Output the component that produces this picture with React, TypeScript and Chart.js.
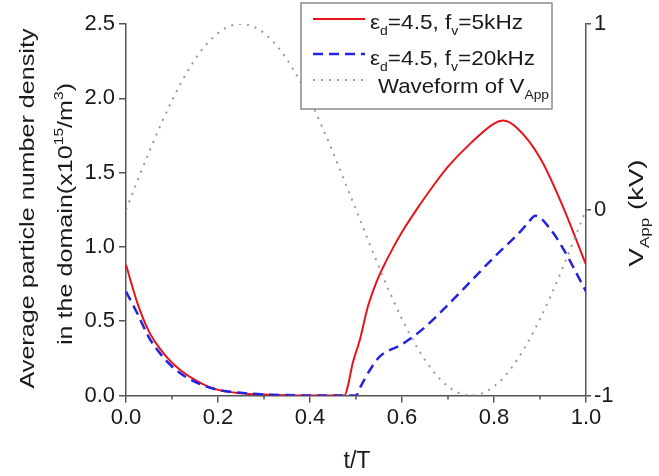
import React, { useEffect, useRef } from "react";
import { Chart, registerables } from "chart.js";

Chart.register(...registerables);

// ---------- data ----------
const tRed = [0, 0.025, 0.05, 0.075, 0.1, 0.125, 0.15, 0.175, 0.2, 0.25, 0.3, 0.35, 0.4, 0.45, 0.475, 0.482, 0.493, 0.508, 0.526, 0.544, 0.56, 0.58, 0.6, 0.638, 0.67, 0.7, 0.75, 0.8, 0.82, 0.85, 0.9, 0.95, 1.0];
const densityRed = [0.88, 0.62, 0.43, 0.31, 0.22, 0.155, 0.105, 0.065, 0.038, 0.015, 0.006, 0.002, 0, 0, 0, 0.06, 0.22, 0.37, 0.6, 0.76, 0.87, 0.99, 1.1, 1.28, 1.42, 1.54, 1.7, 1.83, 1.85, 1.8, 1.6, 1.27, 0.88];

const tBlue = [0, 0.025, 0.05, 0.075, 0.1, 0.125, 0.15, 0.175, 0.2, 0.25, 0.3, 0.35, 0.4, 0.45, 0.5, 0.51, 0.53, 0.551, 0.6, 0.65, 0.7, 0.75, 0.8, 0.85, 0.871, 0.89, 0.92, 0.95, 1.0];
const densityBlue = [0.7, 0.55, 0.39, 0.28, 0.195, 0.135, 0.092, 0.06, 0.038, 0.018, 0.007, 0.003, 0, 0, 0, 0.06, 0.17, 0.26, 0.345, 0.46, 0.61, 0.77, 0.93, 1.08, 1.15, 1.21, 1.13, 0.99, 0.7];

const tWave = [0, 0.025, 0.05, 0.075, 0.1, 0.125, 0.15, 0.175, 0.2, 0.225, 0.25, 0.275, 0.3, 0.325, 0.35, 0.375, 0.4, 0.425, 0.45, 0.475, 0.5, 0.525, 0.55, 0.575, 0.6, 0.625, 0.65, 0.675, 0.7, 0.725, 0.75, 0.775, 0.8, 0.825, 0.85, 0.875, 0.9, 0.925, 0.95, 0.975, 1.0];
const vApp = [0, 0.156, 0.309, 0.454, 0.588, 0.707, 0.809, 0.891, 0.951, 0.988, 1, 0.988, 0.951, 0.891, 0.809, 0.707, 0.588, 0.454, 0.309, 0.156, 0, -0.156, -0.309, -0.454, -0.588, -0.707, -0.809, -0.891, -0.951, -0.988, -1, -0.988, -0.951, -0.891, -0.809, -0.707, -0.588, -0.454, -0.309, -0.156, 0];

const xMinorTicks = [0.1, 0.3, 0.5, 0.7, 0.9];

// ---------- styles ----------
const FONT = "'Liberation Sans', Arial, sans-serif";
const TEXT = "#1a1a1a";
const AXIS = "#555555";
const RED = "#e8141c";
const BLUE = "#2424e0";
const GREY = "#9a9a9a";

type Seg = { t: string; sub?: boolean; sup?: boolean };

function richWidth(ctx: CanvasRenderingContext2D, segs: Seg[], fs: number) {
  let w = 0;
  for (const s of segs) {
    const f = s.sub || s.sup ? fs * 0.62 : fs;
    ctx.font = `${f}px ${FONT}`;
    w += ctx.measureText(s.t).width;
  }
  return w;
}

function drawRich(
  ctx: CanvasRenderingContext2D,
  segs: Seg[],
  fs: number,
  x: number,
  y: number,
  rot: number,
  targetW: number,
  center: boolean
) {
  const w = richWidth(ctx, segs, fs);
  const sx = targetW / w;
  ctx.save();
  ctx.translate(x, y);
  ctx.rotate(rot);
  ctx.scale(sx, 1);
  ctx.fillStyle = TEXT;
  ctx.textBaseline = "alphabetic";
  ctx.textAlign = "left";
  let cx = center ? -w / 2 : 0;
  for (const s of segs) {
    const f = s.sub || s.sup ? fs * 0.62 : fs;
    ctx.font = `${f}px ${FONT}`;
    const dy = s.sub ? fs * 0.3 : s.sup ? -fs * 0.45 : 0;
    ctx.fillText(s.t, cx, dy);
    cx += ctx.measureText(s.t).width;
  }
  ctx.restore();
}

const decorPlugin = {
  id: "decor",
  afterDraw(chart: any) {
    const ctx: CanvasRenderingContext2D = chart.ctx;
    const xs = chart.scales.x;
    const bottom = chart.chartArea.bottom;
    ctx.save();
    ctx.strokeStyle = AXIS;
    ctx.lineWidth = 1.5;
    for (const t of xMinorTicks) {
      const px = xs.getPixelForValue(t);
      ctx.beginPath();
      ctx.moveTo(px, bottom);
      ctx.lineTo(px, bottom + 4);
      ctx.stroke();
    }
    ctx.restore();

    drawRich(ctx, [{ t: "Average particle number density" }], 21, 34, 208.5, -Math.PI / 2, 360, true);
    drawRich(
      ctx,
      [{ t: "in the domain(x10" }, { t: "15", sup: true }, { t: "/m" }, { t: "3", sup: true }, { t: ")" }],
      21,
      72,
      214,
      -Math.PI / 2,
      262,
      true
    );
    drawRich(ctx, [{ t: "V" }, { t: "App", sub: true }, { t: " (kV)" }], 21, 643, 213, -Math.PI / 2, 107, true);
    drawRich(ctx, [{ t: "t/T" }], 23, 357, 468, 0, 27, true);

    const bx = 301, by = 3, bw = 251, bh = 106;
    ctx.save();
    ctx.fillStyle = "#ffffff";
    ctx.fillRect(bx, by, bw, bh);
    ctx.strokeStyle = "#8a8a8a";
    ctx.lineWidth = 1.5;
    ctx.strokeRect(bx, by, bw, bh);
    const rows = [
      { y: 19, color: RED, dash: [] as number[], w: 2 },
      { y: 54, color: BLUE, dash: [10, 6], w: 2.5 },
      { y: 80, color: GREY, dash: [2, 6], w: 2 },
    ];
    for (const r of rows) {
      ctx.beginPath();
      ctx.strokeStyle = r.color;
      ctx.lineWidth = r.w;
      ctx.setLineDash(r.dash);
      ctx.moveTo(313, r.y);
      ctx.lineTo(365, r.y);
      ctx.stroke();
    }
    ctx.setLineDash([]);
    ctx.restore();
    drawRich(
      ctx,
      [{ t: "ε" }, { t: "d", sub: true }, { t: "=4.5, f" }, { t: "v", sub: true }, { t: "=5kHz" }],
      21,
      370,
      28.5,
      0,
      153,
      false
    );
    drawRich(
      ctx,
      [{ t: "ε" }, { t: "d", sub: true }, { t: "=4.5, f" }, { t: "v", sub: true }, { t: "=20kHz" }],
      21,
      370,
      64.5,
      0,
      165,
      false
    );
    drawRich(ctx, [{ t: "Waveform of V" }, { t: "App", sub: true }], 21, 378, 92.5, 0, 171, false);
  },
};

function pairs(xs: number[], ys: number[]) {
  return xs.map((x, i) => ({ x, y: ys[i] }));
}

export default function App() {
  const ref = useRef<HTMLCanvasElement | null>(null);
  useEffect(() => {
    if (!ref.current) return;
    const tickFont = { family: FONT, size: 22 };
    const chart = new Chart(ref.current, {
      type: "line",
      data: {
        datasets: [
          {
            label: "Waveform of V_App",
            data: pairs(tWave, vApp),
            yAxisID: "y2",
            borderColor: GREY,
            borderWidth: 2,
            borderDash: [2, 6],
            pointRadius: 0,
            cubicInterpolationMode: "monotone",
          },
          {
            label: "εd=4.5, fv=20kHz",
            data: pairs(tBlue, densityBlue),
            yAxisID: "y",
            borderColor: BLUE,
            borderWidth: 2.5,
            borderDash: [10, 6],
            pointRadius: 0,
            cubicInterpolationMode: "monotone",
          },
          {
            label: "εd=4.5, fv=5kHz",
            data: pairs(tRed, densityRed),
            yAxisID: "y",
            borderColor: RED,
            borderWidth: 2,
            pointRadius: 0,
            cubicInterpolationMode: "monotone",
          },
        ],
      },
      options: {
        responsive: false,
        animation: false,
        devicePixelRatio: 1,
        layout: { padding: { top: 24, left: 0, right: 0, bottom: 0 } },
        plugins: { legend: { display: false }, tooltip: { enabled: false } },
        scales: {
          x: {
            type: "linear",
            min: 0,
            max: 1,
            ticks: {
              stepSize: 0.2,
              callback: (v: any) => Number(v).toFixed(1),
              font: tickFont,
              color: TEXT,
              padding: 2,
              maxRotation: 0,
            },
            grid: { display: true, drawOnChartArea: false, drawTicks: true, tickLength: 7, color: AXIS, lineWidth: 1.5 },
            border: { display: true, color: AXIS, width: 1.5 },
            afterFit: (s: any) => {
              s.height = 80.5;
            },
          },
          y: {
            position: "left",
            min: 0,
            max: 2.5,
            ticks: {
              stepSize: 0.5,
              callback: (v: any) => Number(v).toFixed(1),
              font: tickFont,
              color: TEXT,
              padding: 4,
            },
            grid: { display: true, drawOnChartArea: false, drawTicks: true, tickLength: 7, color: AXIS, lineWidth: 1.5 },
            border: { display: true, color: AXIS, width: 1.5 },
            afterFit: (s: any) => {
              s.width = 126;
            },
          },
          y2: {
            position: "right",
            min: -1,
            max: 1,
            ticks: {
              stepSize: 1,
              callback: (v: any) => String(v),
              font: tickFont,
              color: TEXT,
              padding: 3,
            },
            grid: { display: true, drawOnChartArea: false, drawTicks: true, tickLength: 5, color: AXIS, lineWidth: 1.5 },
            border: { display: true, color: AXIS, width: 1.5 },
            afterFit: (s: any) => {
              s.width = 73;
            },
          },
        },
      },
      plugins: [decorPlugin],
    } as any);
    return () => chart.destroy();
  }, []);
  return (
    <div style={{ position: "absolute", left: 0, top: 0, width: 659, height: 476, background: "#fff" }}>
      <canvas ref={ref} width={659} height={476} style={{ width: 659, height: 476, display: "block" }} />
    </div>
  );
}
